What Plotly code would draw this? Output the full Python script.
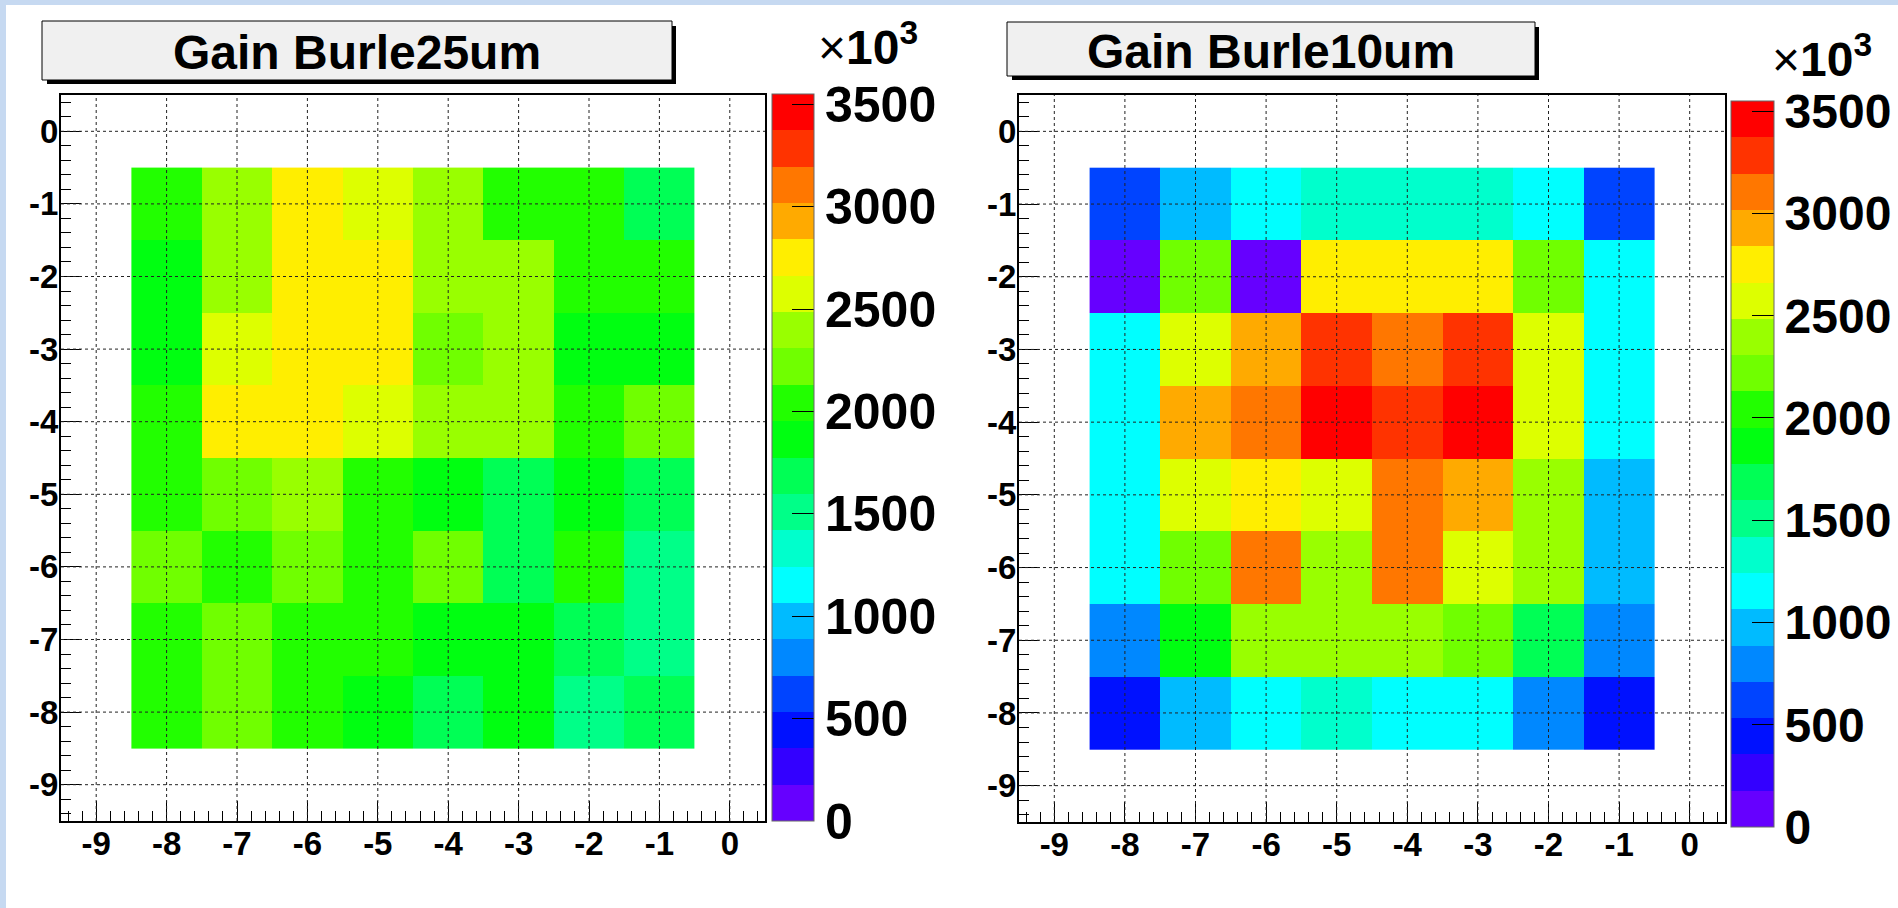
import plotly.graph_objects as go

# ---------------- data ----------------
x_cols = [-8, -7, -6, -5, -4, -3, -2, -1]
y_rows = [-1, -2, -3, -4, -5, -6, -7, -8]

gain_burle25um = [
    [2040, 2400, 2750, 2570, 2400, 2040, 2040, 1690],
    [1860, 2400, 2750, 2750, 2400, 2400, 2040, 2040],
    [1860, 2570, 2750, 2750, 2220, 2400, 1860, 1860],
    [2040, 2750, 2750, 2570, 2400, 2400, 2040, 2220],
    [2040, 2220, 2400, 2040, 1860, 1690, 1860, 1690],
    [2220, 2040, 2220, 2040, 2220, 1690, 2040, 1510],
    [2040, 2220, 2040, 2040, 1860, 1860, 1690, 1510],
    [2040, 2220, 2040, 1860, 1690, 1860, 1510, 1690],
]

gain_burle10um = [
    [620, 980, 1150, 1330, 1330, 1330, 1150, 620],
    [90, 2220, 90, 2750, 2750, 2750, 2220, 1150],
    [1150, 2570, 2930, 3280, 3110, 3280, 2570, 1150],
    [1150, 2930, 3110, 3460, 3280, 3460, 2570, 1150],
    [1150, 2570, 2750, 2570, 3110, 2930, 2400, 980],
    [1150, 2220, 3110, 2400, 3110, 2570, 2400, 980],
    [800, 1860, 2400, 2400, 2400, 2220, 1690, 800],
    [440, 980, 1150, 1330, 1150, 1150, 800, 440],
]

titles = ["Gain Burle25um", "Gain Burle10um"]
cbar_ticks = [0, 500, 1000, 1500, 2000, 2500, 3000, 3500]
axis_ticks = [-9, -8, -7, -6, -5, -4, -3, -2, -1, 0]
z_min, z_max = 0, 3550

palette = ["#6600FF", "#3300FF", "#0011FF", "#0044FF", "#0088FF", "#00BBFF",
           "#00FFFF", "#00FFCC", "#00FF88", "#00FF55", "#00FF11", "#22FF00",
           "#70FF00", "#99FF00", "#DDFF00", "#FFEE00", "#FFAA00", "#FF7700",
           "#FF3300", "#FF0000"]

# ---------------- layout helpers ----------------
W, H = 1898, 908


def px(x):
    return x / W


def py(y):
    return 1 - y / H


n = len(palette)
colorscale = []
for i, c in enumerate(palette):
    colorscale.append([i / n, c])
    colorscale.append([(i + 1) / n, c])

FONT = "Liberation Sans, Arial, sans-serif"

panels = [
    dict(z=gain_burle25um, title=titles[0], xdom=(61, 765), ydom=(95, 821),
         cb=(772, 94, 821, 42), box=(42, 21, 672, 80), expo=(868, 44),
         cbfont=50),
    dict(z=gain_burle10um, title=titles[1], xdom=(1019, 1725), ydom=(95, 822),
         cb=(1731, 101, 827, 43), box=(1007, 22, 1535, 76), expo=(1822, 56),
         cbfont=48),
]

fig = go.Figure()
shapes = []
annotations = []

# page background: white sheet over a light-blue frame
shapes.append(dict(type="rect", xref="paper", yref="paper", x0=px(6), x1=1,
                   y0=0, y1=py(5), fillcolor="white", line=dict(width=0),
                   layer="below"))

for k, p in enumerate(panels):
    xa = "x" if k == 0 else "x2"
    ya = "y" if k == 0 else "y2"
    cbx, cbt, cbb, cbw = p["cb"]
    fig.add_trace(go.Heatmap(
        x=x_cols, y=y_rows, z=p["z"], xaxis=xa, yaxis=ya,
        zmin=z_min, zmax=z_max, colorscale=colorscale,
        colorbar=dict(
            x=px(cbx), xanchor="left", y=py(cbt), yanchor="top",
            len=(cbb - cbt) / H, lenmode="fraction", thickness=cbw,
            thicknessmode="pixels", xpad=0, ypad=0,
            outlinewidth=1, outlinecolor="#666666",
            tickmode="array", tickvals=cbar_ticks,
            ticktext=[str(v) for v in cbar_ticks],
            ticks="inside", ticklen=22, tickcolor="black", tickwidth=1,
            tickfont=dict(family=FONT, size=p["cbfont"], color="black",
                          weight="bold"),
        ),
        hoverongaps=False,
    ))

    axis_common = dict(
        range=[-9.5, 0.5], showgrid=False, zeroline=False,
        showline=True, linecolor="black", linewidth=2, mirror=True,
        ticks="inside", ticklen=20, tickcolor="black", tickwidth=1,
        tickmode="array", tickvals=axis_ticks,
        ticktext=[str(v) for v in axis_ticks],
        tickfont=dict(family=FONT, size=33, color="black", weight="bold"),
        minor=dict(ticks="inside", ticklen=10, dtick=0.2, tick0=0,
                   tickcolor="black", tickwidth=1, showgrid=False),
        layer="above traces", fixedrange=True, automargin=False,
    )
    xkey = "xaxis" if k == 0 else "xaxis2"
    ykey = "yaxis" if k == 0 else "yaxis2"
    fig.update_layout({
        xkey: dict(axis_common, domain=[px(p["xdom"][0]), px(p["xdom"][1])],
                   anchor=ya, ticklabelstandoff=-8),
        ykey: dict(axis_common, domain=[py(p["ydom"][1]), py(p["ydom"][0])],
                   anchor=xa, ticklabelstandoff=-6),
    })

    # dotted grid drawn over the cells (ROOT style)
    for t in axis_ticks:
        shapes.append(dict(type="line", xref=xa, yref=ya, x0=t, x1=t,
                           y0=-9.5, y1=0.5, layer="above",
                           line=dict(color="#222222", width=1, dash="dot")))
        shapes.append(dict(type="line", xref=xa, yref=ya, x0=-9.5, x1=0.5,
                           y0=t, y1=t, layer="above",
                           line=dict(color="#222222", width=1, dash="dot")))

    # title box with shadow
    bx0, by0, bx1, by1 = p["box"]
    shapes.append(dict(type="rect", xref="paper", yref="paper",
                       x0=px(bx0 + 5), x1=px(bx1 + 4), y0=py(by1 + 4),
                       y1=py(by0 + 5), fillcolor="black",
                       line=dict(width=0), layer="above"))
    shapes.append(dict(type="rect", xref="paper", yref="paper",
                       x0=px(bx0), x1=px(bx1), y0=py(by1), y1=py(by0),
                       fillcolor="#F0F0F0", line=dict(color="black", width=1),
                       layer="above"))
    annotations.append(dict(
        xref="paper", yref="paper", x=px((bx0 + bx1) / 2),
        y=py((by0 + by1) / 2 + 2), text="<b>" + p["title"] + "</b>",
        showarrow=False, xanchor="center", yanchor="middle",
        font=dict(family=FONT, size=48, color="black")))

    ex, ey = p["expo"]
    annotations.append(dict(
        xref="paper", yref="paper", x=px(ex), y=py(ey),
        text="×<b>10<sup>3</sup></b>", showarrow=False, borderpad=0,
        xanchor="center", yanchor="middle",
        font=dict(family=FONT, size=48, color="black")))

fig.update_layout(
    width=W, height=H,
    margin=dict(l=0, r=0, t=0, b=0, pad=0, autoexpand=False),
    paper_bgcolor="#C6D9F1", plot_bgcolor="white",
    shapes=shapes, annotations=annotations, showlegend=False,
)

fig.write_html("out.html")
